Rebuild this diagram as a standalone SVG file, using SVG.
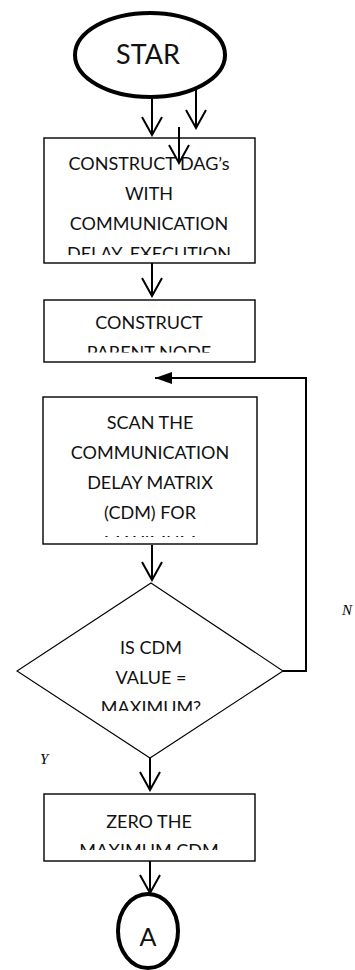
<svg xmlns="http://www.w3.org/2000/svg" width="355" height="970" viewBox="0 0 355 970">
  <style>
    .box { fill: #fff; stroke: #000; stroke-width: 1.4; }
    .diamond { fill: #fff; stroke: #000; stroke-width: 1.1; }
    .term { fill: #fff; stroke: #000; stroke-width: 4; }
    .lbl { font-family: Lato, "Liberation Sans", sans-serif; font-size: 18px; fill: #111; text-anchor: middle; }
    .big { font-size: 27px; }
    .yn { font-family: "Liberation Serif", serif; font-style: italic; font-size: 15px; fill: #000; }
    .flow { fill: none; stroke: #000; stroke-width: 2; }
  </style>
  <defs>
    <marker id="vhead" viewBox="-20 -12 22 24" refX="0" refY="0" markerWidth="22" markerHeight="24" markerUnits="userSpaceOnUse" orient="auto">
      <path d="M-18,-10 L0,0 L-18,10" fill="none" stroke="#000" stroke-width="2"/>
    </marker>
    <marker id="solid" viewBox="-18 -7 19 14" refX="0" refY="0" markerWidth="19" markerHeight="14" markerUnits="userSpaceOnUse" orient="auto">
      <path d="M-17,-6 L0,0 L-17,6 Z" fill="#000"/>
    </marker>
    <clipPath id="clip-dag"><rect x="44" y="138" width="211" height="117"/></clipPath>
    <clipPath id="clip-parent"><rect x="44" y="300" width="211" height="52.5"/></clipPath>
    <clipPath id="clip-scan"><rect x="43" y="397" width="214" height="140"/></clipPath>
    <clipPath id="clip-test"><rect x="17" y="583" width="266" height="128"/></clipPath>
    <clipPath id="clip-zero"><rect x="44" y="794" width="211" height="56"/></clipPath>
  </defs>

  <!-- connectors -->
  <g id="connectors">
    <line class="flow" x1="152" y1="97" x2="152" y2="135" marker-end="url(#vhead)"/>
    <line class="flow" x1="196" y1="90" x2="196" y2="128" marker-end="url(#vhead)"/>
    <line class="flow" x1="152" y1="263" x2="152" y2="296" marker-end="url(#vhead)"/>
    <line class="flow" x1="152" y1="545" x2="152" y2="580" marker-end="url(#vhead)"/>
    <path class="flow" d="M283,671 H306 V378 H155" marker-end="url(#solid)"/>
    <line class="flow" x1="150" y1="758" x2="150" y2="790" marker-end="url(#vhead)"/>
    <line class="flow" x1="150" y1="861" x2="150" y2="893" marker-end="url(#vhead)"/>
  </g>

  <g id="start">
    <ellipse class="term" cx="150" cy="55" rx="75" ry="42"/>
    <text class="lbl big" x="148" y="64">STAR</text>
  </g>

  <g id="construct-dags">
    <rect class="box" x="44" y="138" width="211" height="125"/>
    <g clip-path="url(#clip-dag)">
      <text class="lbl" x="149" y="170">CONSTRUCT DAG’s</text>
      <text class="lbl" x="149" y="200">WITH</text>
      <text class="lbl" x="149" y="230">COMMUNICATION</text>
      <text class="lbl" x="149" y="260">DELAY, EXECUTION</text>
    </g>
  </g>

  <!-- stray arrow drawn over the first box -->
  <g id="stray-arrow">
    <line class="flow" x1="179" y1="127" x2="179" y2="163" marker-end="url(#vhead)"/>
  </g>

  <g id="construct-parent">
    <rect class="box" x="44" y="300" width="211" height="62"/>
    <g clip-path="url(#clip-parent)">
      <text class="lbl" x="149" y="329">CONSTRUCT</text>
      <text class="lbl" x="149" y="359">PARENT NODE</text>
    </g>
  </g>

  <g id="scan-cdm">
    <rect class="box" x="43" y="397" width="214" height="147"/>
    <g clip-path="url(#clip-scan)">
      <text class="lbl" x="150" y="429">SCAN THE</text>
      <text class="lbl" x="150" y="459">COMMUNICATION</text>
      <text class="lbl" x="150" y="489">DELAY MATRIX</text>
      <text class="lbl" x="150" y="519">(CDM) FOR</text>
      <text class="lbl" x="150" y="549">MAXIMUM</text>
    </g>
  </g>

  <g id="is-max">
    <polygon class="diamond" points="151,583 283,671 150,758 17,671"/>
    <g clip-path="url(#clip-test)">
      <text class="lbl" x="151" y="654">IS CDM</text>
      <text class="lbl" x="151" y="684">VALUE =</text>
      <text class="lbl" x="151" y="714">MAXIMUM?</text>
    </g>
  </g>

  <g id="label-n"><text class="yn" x="342" y="615">N</text></g>
  <g id="label-y"><text class="yn" x="40" y="764">Y</text></g>

  <g id="zero-max">
    <rect class="box" x="44" y="794" width="211" height="67"/>
    <g clip-path="url(#clip-zero)">
      <text class="lbl" x="149" y="828">ZERO THE</text>
      <text class="lbl" x="149" y="857">MAXIMUM CDM</text>
    </g>
  </g>

  <g id="connector-a">
    <ellipse class="term" cx="148" cy="931" rx="30" ry="37"/>
    <text class="lbl" x="148" y="946" style="font-size:25px">A</text>
  </g>
</svg>
